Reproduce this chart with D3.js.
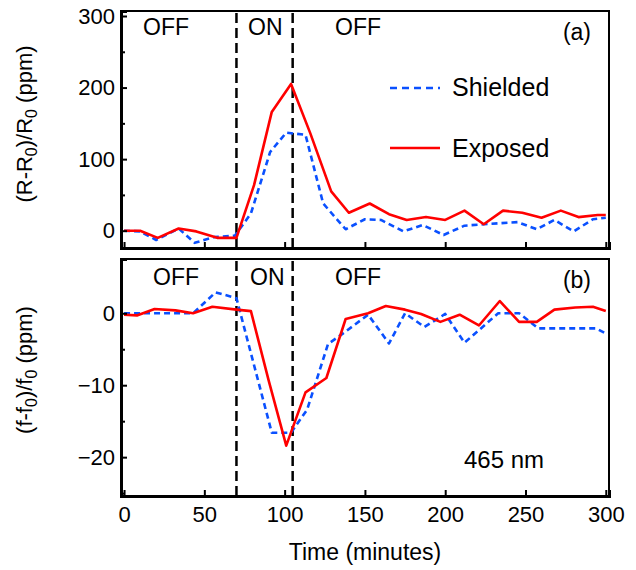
<!DOCTYPE html>
<html lang="en">
<head>
    <meta charset="UTF-8">
    <title>Shielded vs Exposed, 465 nm</title>
    <script src="https://d3js.org/d3.v7.min.js"></script>
    <style>
        body {
            margin: 0;
            background: #fff;
            font-family: "Liberation Sans", Arial, sans-serif;
        }
        svg text {
            font-family: "Liberation Sans", Arial, sans-serif;
        }
    </style>
</head>
<body>
    <div id="chart"></div>

    <script>
        // Panel (a): resistance change
        const timeExpA = [0, 10, 21, 34, 45, 58, 70, 81, 92, 104, 116, 129, 140, 153, 165, 176, 188, 200, 212, 224, 236, 248, 260, 272, 283, 295, 300];
        const exposedA = [0, 0, -10, 3, -1, -10, -10, 64, 166, 205, 136, 55, 25, 38, 23, 15, 19, 15, 28, 9, 28, 25, 18, 28, 19, 22, 22];
        const timeShdA = [0, 10, 20, 34, 44, 56, 69, 79, 91, 101, 113, 124, 138, 150, 160, 174, 186, 199, 212, 224, 245, 257, 268, 280, 292, 300];
        const shieldedA = [0, -1, -13, 3, -17, -9, -7, 24, 110, 137, 134, 38, 2, 16, 15, -1, 8, -6, 7, 9, 12, 2, 15, -1, 16, 18];

        // Panel (b): frequency change
        const timeExpB = [0, 8, 19, 32, 43, 55, 70, 79, 90, 101, 113, 126, 138, 152, 163, 175, 185, 197, 209, 221, 234, 246, 257, 268, 281, 292, 300];
        const exposedB = [-0.2, -0.3, 0.6, 0.4, 0, 0.9, 0.5, 0.3, -9.3, -18.4, -11, -9, -0.8, 0, 1.0, 0.5, -0.1, -1.2, -0.2, -1.7, 1.7, -1.2, -1.2, 0.5, 0.8, 0.9, 0.3];
        const timeShdB = [0, 10, 43, 57, 70, 92, 104, 114, 127, 137, 152, 165, 175, 187, 200, 212, 233, 246, 258, 294, 300];
        const shieldedB = [0, 0, 0, 2.9, 2.1, -16.6, -16.6, -13.4, -4.3, -2.7, -0.2, -4.2, 0, -1.9, -0.1, -4.1, 0, 0, -2.1, -2.1, -2.8];

        // light switched on / off (minutes)
        const switchTimes = [70, 105];
        const xTicks = [0, 50, 100, 150, 200, 250, 300];
        const yTicksA = [0, 100, 200, 300];
        const yMinorA = [50, 150, 250];
        const yTicksB = [-20, -10, 0];
        const yMinorB = [-25, -15, -5];

        const W = 636, H = 570;
        const svg = d3.select("#chart").append("svg")
            .attr("width", W)
            .attr("height", H);

        const x = d3.scaleLinear().domain([-1.9, 302]).range([121, 609]);
        const yA = d3.scaleLinear().domain([-24.2, 307]).range([248, 11]);
        const yB = d3.scaleLinear().domain([-25.4, 7.54]).range([496, 259]);

        const RED = "#ff0000";
        const BLUE = "#0a50ff";

        function zip(ts, vs) { return ts.map((t, i) => [t, vs[i]]); }

        function makePanel(y) {
            const g = svg.append("g");
            const line = d3.line().x(d => x(d[0])).y(d => y(d[1]));
            return {
                g, line,
                top: y.range()[1], bottom: y.range()[0],
                left: x.range()[0], right: x.range()[1]
            };
        }

        function frame(p, y, ticks, minor, showXLabels) {
            const g = p.g;
            // top/right border
            g.append("path")
                .attr("d", `M${p.left},${p.top}H${p.right}V${p.bottom}`)
                .attr("fill", "none").attr("stroke", "#000").attr("stroke-width", 2);

            // left axis, ticks pointing inward
            const ya = g.append("g").attr("transform", `translate(${p.left},0)`)
                .call(d3.axisLeft(y).tickValues(ticks).tickSize(-6).tickPadding(6).tickFormat(d3.format("d")));
            g.append("g").attr("transform", `translate(${p.left},0)`)
                .call(d3.axisLeft(y).tickValues(minor).tickSize(-4).tickFormat(""))
                .select(".domain").remove();
            ya.select(".domain").attr("stroke-width", 3);

            const xa = g.append("g").attr("transform", `translate(0,${p.bottom})`)
                .call(d3.axisBottom(x).tickValues(xTicks).tickSize(-6).tickPadding(10)
                    .tickFormat(showXLabels ? d3.format("d") : ""));
            xa.select(".domain").attr("stroke-width", 3);

            svg.selectAll(".tick line").attr("stroke-width", 2);
            svg.selectAll(".tick text").attr("font-size", 22).attr("fill", "#000");
        }

        function switches(p) {
            p.g.selectAll(".switch").data(switchTimes).enter().append("line")
                .attr("class", "switch")
                .attr("x1", d => x(d)).attr("x2", d => x(d))
                .attr("y1", p.top + 2).attr("y2", p.bottom)
                .attr("stroke", "#000").attr("stroke-width", 2.5)
                .attr("stroke-dasharray", "10,5");
        }

        function series(p, data, color, dashed) {
            p.g.append("path")
                .datum(data)
                .attr("d", p.line)
                .attr("fill", "none")
                .attr("stroke", color)
                .attr("stroke-width", 2.6)
                .attr("stroke-linejoin", "round")
                .attr("stroke-dasharray", dashed ? "6,4" : null);
        }

        function label(p, text, tx, ty, size, anchor) {
            p.g.append("text").attr("x", tx).attr("y", ty)
                .attr("font-size", size || 23).attr("text-anchor", anchor || "start")
                .text(text);
        }

        // panel (a)
        const pA = makePanel(yA);
        switches(pA);
        series(pA, zip(timeShdA, shieldedA), BLUE, true);
        series(pA, zip(timeExpA, exposedA), RED, false);
        frame(pA, yA, yTicksA, yMinorA, false);
        label(pA, "OFF", 143, 35);
        label(pA, "ON", 248, 35);
        label(pA, "OFF", 335, 35);
        label(pA, "(a)", 591, 40, 23, "end");

        // legend
        pA.g.append("line").attr("x1", 390).attr("x2", 440).attr("y1", 88).attr("y2", 88)
            .attr("stroke", BLUE).attr("stroke-width", 2.6).attr("stroke-dasharray", "7,5");
        label(pA, "Shielded", 452, 96, 25);
        pA.g.append("line").attr("x1", 390).attr("x2", 440).attr("y1", 148).attr("y2", 148)
            .attr("stroke", RED).attr("stroke-width", 2.6);
        label(pA, "Exposed", 452, 157, 25);

        // panel (b)
        const pB = makePanel(yB);
        switches(pB);
        series(pB, zip(timeShdB, shieldedB), BLUE, true);
        series(pB, zip(timeExpB, exposedB), RED, false);
        frame(pB, yB, yTicksB, yMinorB, true);
        label(pB, "OFF", 153, 285);
        label(pB, "ON", 250, 285);
        label(pB, "OFF", 335, 285);
        label(pB, "(b)", 591, 288, 23, "end");
        label(pB, "465 nm", 464, 468, 24);

        // axis titles
        svg.append("text").attr("x", 365).attr("y", 560)
            .attr("text-anchor", "middle").attr("font-size", 23)
            .text("Time (minutes)");

        const tA = svg.append("text")
            .attr("transform", "translate(32,124) rotate(-90)")
            .attr("text-anchor", "middle").attr("font-size", 22);
        tA.append("tspan").text("(R-R");
        tA.append("tspan").attr("font-size", 16).attr("dy", 5).text("0");
        tA.append("tspan").attr("dy", -5).text(")/R");
        tA.append("tspan").attr("font-size", 16).attr("dy", 5).text("0");
        tA.append("tspan").attr("dy", -5).text(" (ppm)");

        const tB = svg.append("text")
            .attr("transform", "translate(32,370) rotate(-90)")
            .attr("text-anchor", "middle").attr("font-size", 22);
        tB.append("tspan").text("(f-f");
        tB.append("tspan").attr("font-size", 16).attr("dy", 5).text("0");
        tB.append("tspan").attr("dy", -5).text(")/f");
        tB.append("tspan").attr("font-size", 16).attr("dy", 5).text("0");
        tB.append("tspan").attr("dy", -5).text(" (ppm)");
    </script>
</body>
</html>
